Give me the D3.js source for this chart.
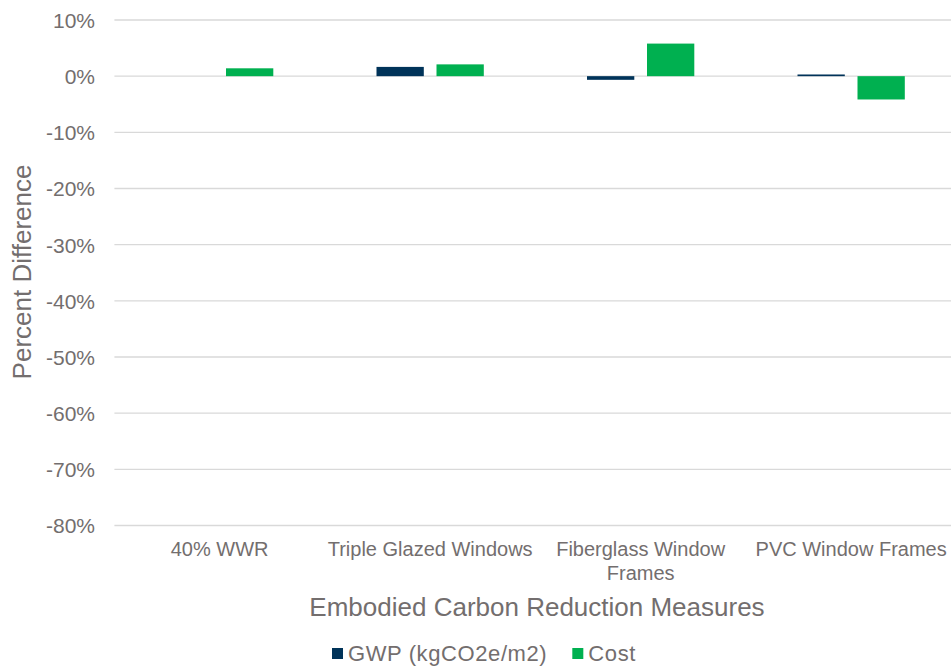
<!DOCTYPE html>
<html>
<head>
<meta charset="utf-8">
<script src="https://cdn.jsdelivr.net/npm/d3@7"></script>
<style>
  body { margin: 0; background: #fff; }
  svg { display: block; font-family: "Liberation Sans", Arial, sans-serif; }
</style>
</head>
<body>
<svg id="chart" width="951" height="667"></svg>
<script>
// Categories (multi-line labels split on "\n")
const categories = ["40% WWR", "Triple Glazed Windows", "Fiberglass Window\nFrames", "PVC Window Frames"];
// Percent difference per measure
const gwpValues  = [0, 1.65, -0.65, 0.3];
const costValues = [1.4, 2.1, 5.8, -4.15];
const seriesNames = ["GWP (kgCO2e/m2)", "Cost"];
const seriesColors = ["#003359", "#00b050"];
const yTicks = [10, 0, -10, -20, -30, -40, -50, -60, -70, -80];

const svg = d3.select("#chart");
const textColor = "#736e6e";
const plotLeft = 114.4, bandRight = 956.4, plotTop = 20, plotBottom = 525.5;

const y = d3.scaleLinear().domain([-80, 10]).range([plotBottom, plotTop]);
const x = d3.scaleBand().domain(categories).range([plotLeft, bandRight]).paddingInner(0).paddingOuter(0);
const barW = 47.3, barGap = 12.7;
const inner = d3.scaleBand().domain([0, 1])
  .range([x.bandwidth() / 2 - barW - barGap / 2, x.bandwidth() / 2 + barW + barGap / 2])
  .paddingInner(barGap / (barW + barGap)).paddingOuter(0);

// Gridlines
svg.append("g").selectAll("line").data(yTicks).join("line")
  .attr("x1", plotLeft).attr("x2", 951)
  .attr("y1", d => y(d)).attr("y2", d => y(d))
  .attr("stroke", "#d9d9d9").attr("stroke-width", 1.3);

// Y axis tick labels
const yAxis = d3.axisLeft(y).tickValues(yTicks).tickSize(0).tickPadding(0)
  .tickFormat(d => d + "%");
const yg = svg.append("g").attr("transform", `translate(95,0)`).call(yAxis);
yg.select(".domain").remove();
yg.selectAll("text").attr("fill", textColor).attr("font-size", 21)
  .attr("font-family", "Liberation Sans, Arial, sans-serif").attr("dy", "0.35em");

// Bars
const rows = categories.map((c, i) => ({ c, vals: [gwpValues[i], costValues[i]] }));
const groups = svg.append("g").selectAll("g").data(rows).join("g")
  .attr("transform", d => `translate(${x(d.c)},0)`);
groups.selectAll("rect").data(d => d.vals.map((v, k) => ({ v, k }))).join("rect")
  .attr("x", d => inner(d.k))
  .attr("width", inner.bandwidth())
  .attr("y", d => y(Math.max(0, d.v)))
  .attr("height", d => Math.abs(y(d.v) - y(0)))
  .attr("fill", d => seriesColors[d.k]);

// X axis category labels
const xl = svg.append("g");
categories.forEach(c => {
  const lines = c.split("\n");
  const cx = x(c) + x.bandwidth() / 2;
  const t = xl.append("text")
    .attr("x", cx)
    .attr("y", 556)
    .attr("text-anchor", "middle")
    .attr("fill", textColor)
    .attr("font-size", 20);
  lines.forEach((ln, i) => {
    t.append("tspan").attr("x", cx).attr("dy", i === 0 ? 0 : 24).text(ln);
  });
});

// Axis titles
svg.append("text")
  .attr("x", 537).attr("y", 616)
  .attr("text-anchor", "middle").attr("fill", textColor).attr("font-size", 26)
  .text("Embodied Carbon Reduction Measures");
svg.append("text")
  .attr("transform", `translate(31,272) rotate(-90)`)
  .attr("text-anchor", "middle").attr("fill", textColor).attr("font-size", 26)
  .text("Percent Difference");

// Legend
const legend = svg.append("g").attr("transform", "translate(332,653)");
let lx = 0;
seriesNames.forEach((name, i) => {
  const g = legend.append("g").attr("transform", `translate(${lx},0)`);
  g.append("rect").attr("x", 0).attr("y", -5).attr("width", 11).attr("height", 11)
    .attr("fill", seriesColors[i]);
  const t = g.append("text").attr("x", 16).attr("y", 0).attr("dy", "0.36em")
    .attr("fill", textColor).attr("font-size", 22).attr("letter-spacing", 0.6).text(name);
  lx += 16 + t.node().getComputedTextLength() + 25;
});
</script>
</body>
</html>
